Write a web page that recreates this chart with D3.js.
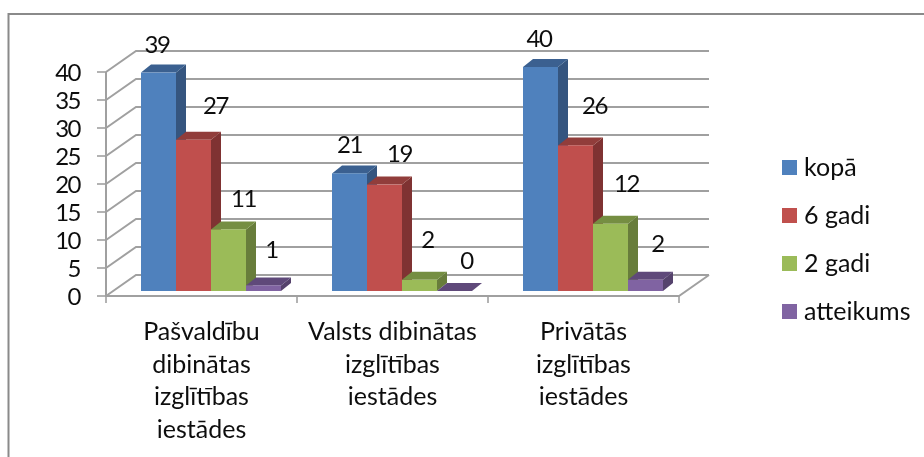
<!DOCTYPE html>
<html><head><meta charset="utf-8">
<style>html,body{margin:0;padding:0;background:#fff}svg{display:block}text{font-family:Lato,"Open Sans",sans-serif;fill:#111}</style>
<script src="https://cdn.jsdelivr.net/npm/d3@7/dist/d3.min.js"></script></head>
<body><svg id="c" width="924" height="457"></svg>
<script>
const categories=[["Pašvaldību","dibinātas","izglītības","iestādes"],["Valsts dibinātas","izglītības","iestādes"],["Privātās","izglītības","iestādes"]];
const seriesNames=["kopā","6 gadi","2 gadi","atteikums"];
const kopa=[39,21,40];
const sesiGadi=[27,19,26];
const diviGadi=[11,2,12];
const atteikums=[1,0,2];
const seriesValues=[kopa,sesiGadi,diviGadi,atteikums];
const yTicks=[0,5,10,15,20,25,30,35,40];
const front=["#4f81bd","#c0504d","#9bbb59","#8064a2"];
const side=["#34557f","#7f3331","#677d3b","#54426c"];
const top_=["#3a6190","#913c3a","#748e43","#5f4a7a"];
// manual data-label nudges (series by category), as placed in the reference
const labelDx=[[-1.5,0,-1.5],[22,15,19],[15,8,16],[8,12,12]];
const labelDy=[[-20,-20,-20],[-26,-23,-31],[-22,-32,-32],[-27,-22,-28]];

const svg=d3.select("#c");
const defs=svg.append("defs");
defs.append("filter").attr("id","soft").append("feGaussianBlur").attr("stdDeviation",0.7);
defs.append("filter").attr("id","softText").append("feGaussianBlur").attr("stdDeviation",0.35);

const x0=d3.scaleBand().domain([0,1,2]).range([106,679]);
const x1=d3.scaleBand().domain([0,1,2,3]).range([0,140]);
const y=d3.scaleLinear().domain([0,40]).range([296,72]);
const wallDx=30,wallDy=-21,depthDx=10,depthDy=-8,barDy=-5,barStart=35;

svg.append("rect").attr("x",8.5).attr("y",14).attr("width",940).attr("height",470).attr("fill","#fff").attr("stroke","#8a8a8a").attr("stroke-width",2);

const g=svg.append("g").attr("filter","url(#soft)");
const gridColor="#a0a0a0";
yTicks.forEach(t=>{
  g.append("path").attr("fill","none").attr("stroke",gridColor).attr("stroke-width",2)
   .attr("d",`M${x0.range()[0]},${y(t)}L${x0.range()[0]+wallDx},${y(t)+wallDy}H${x0.range()[1]+wallDx}`);
  g.append("line").attr("x1",x0.range()[0]-9).attr("x2",x0.range()[0]).attr("y1",y(t)).attr("y2",y(t)).attr("stroke",gridColor).attr("stroke-width",1.6);
});
g.append("path").attr("fill","none").attr("stroke",gridColor).attr("stroke-width",2)
 .attr("d",`M${x0.range()[0]},${y(40)}V${y(0)}H${x0.range()[1]}L${x0.range()[1]+wallDx},${y(0)+wallDy}`);
[0,1,2,3].forEach(i=>{
  const xx=i<3?x0(i):x0.range()[1];
  g.append("line").attr("x1",xx).attr("x2",xx).attr("y1",y(0)).attr("y2",y(0)+7).attr("stroke",gridColor).attr("stroke-width",1.6);
});

seriesValues.forEach((vals,s)=>{
  vals.forEach((v,c)=>{
    const xl=x0(c)+barStart+x1(s),w=x1.bandwidth(),yb=y(0)+barDy,yt=y(v)+barDy;
    g.append("path").attr("fill",side[s]).attr("d",`M${xl+w},${yt}l${depthDx},${depthDy}V${yb+depthDy}l${-depthDx},${-depthDy}Z`);
    g.append("path").attr("fill",top_[s]).attr("d",`M${xl},${yt}l${depthDx},${depthDy}h${w}l${-depthDx},${-depthDy}Z`);
    g.append("rect").attr("x",xl).attr("y",yt).attr("width",w).attr("height",yb-yt).attr("fill",front[s]);
  });
});

const t=svg.append("g").attr("filter","url(#softText)");
const fs=24,ls=25,digitSp=-1.5;
yTicks.forEach(v=>{
  t.append("text").attr("x",80).attr("y",y(v)+9).attr("text-anchor","end").attr("font-size",fs).attr("letter-spacing",digitSp).text(v);
});
seriesValues.forEach((vals,s)=>vals.forEach((v,c)=>{
  t.append("text").attr("x",x0(c)+barStart+x1(s)+x1.bandwidth()/2+labelDx[s][c]).attr("y",y(v)+barDy+labelDy[s][c]).attr("text-anchor","middle").attr("font-size",fs).attr("letter-spacing",digitSp).text(v);
}));
categories.forEach((lines,c)=>{
  lines.forEach((l,i)=>{
    t.append("text").attr("x",x0(c)+x0.bandwidth()/2).attr("y",340+i*32.7).attr("text-anchor","middle").attr("font-size",ls).text(l);
  });
});
seriesNames.forEach((n,i)=>{
  svg.append("rect").attr("x",782).attr("y",160+i*48).attr("width",15).attr("height",15).attr("fill",front[i]);
  t.append("text").attr("x",804).attr("y",175.5+i*48).attr("font-size",ls).text(n);
});
</script></body></html>
